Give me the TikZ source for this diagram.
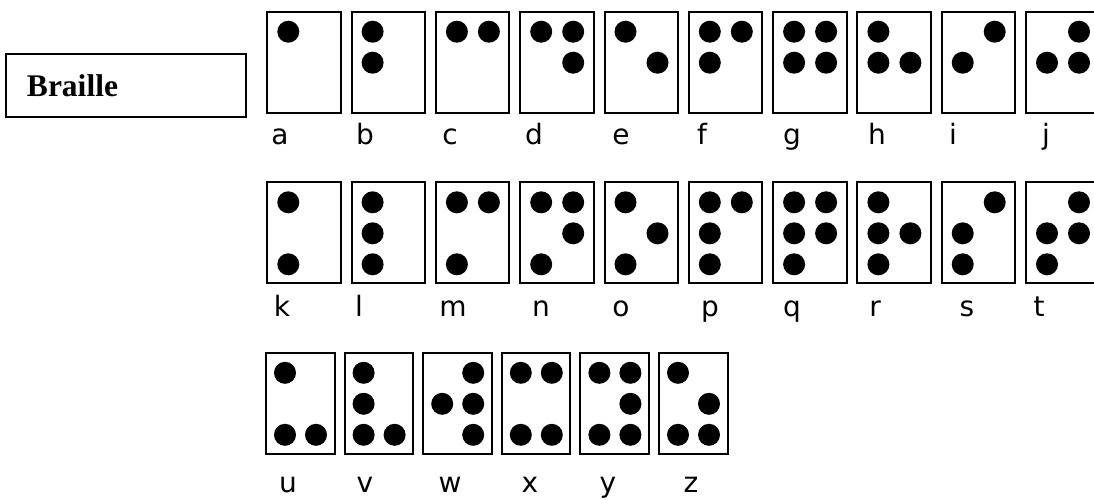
\documentclass[tikz,border=0pt]{standalone}
\usepackage{fontspec}
\setmainfont{Liberation Serif}
\newfontfamily\letterfont{DejaVu Sans}
\usepackage{tikz}

\tikzset{
  titlebox/.style={draw,line width=2pt,anchor=north west,minimum height=63pt,
    inner xsep=21pt,inner ysep=0pt,outer sep=0pt,text width=198pt,align=left,
    font=\fontsize{31.5}{31.5}\selectfont\bfseries},
  cellbox/.style={draw,line width=2pt,anchor=north west,inner sep=0pt,outer sep=0pt,
    minimum width=73.4pt,minimum height=101pt},
  cellsmall/.style={cellbox,minimum width=68.5pt},
  letter/.style={anchor=base,inner sep=0pt,font=\letterfont\fontsize{28}{28}\selectfont}
}

\begin{document}
\begin{tikzpicture}[x=1pt,y=-1pt]
    \clip (0,0) rectangle (1094,499);
    \fill[white] (0,0) rectangle (1094,499);
    \node[titlebox] (title) at (6,54) {Braille};
    % a to j
    \foreach \l/\pts/\lx [count=\i from 0] in {a/1/280,b/{1,2}/365,c/{1,4}/450,
      d/{1,4,5}/534,e/{1,5}/621,f/{1,2,4}/702,g/{1,2,4,5}/792,h/{1,2,5}/877,
      i/{2,4}/953,j/{2,4,5}/1046}
    {
      \node[cellbox] (c-\l) at (267.3+84.3*\i,11.7) {};
      \foreach \d in \pts {
        \pgfmathtruncatemacro\cx{\d>3}
        \pgfmathtruncatemacro\ry{mod(\d-1,3)}
        \fill ([shift={(21+32*\cx,20+31*\ry)}]c-\l.north west) circle[radius=11];
      }
      \node[letter] (l-\l) at (\lx,144) {\l};
    }
    % k to t
    \foreach \l/\pts/\lx [count=\i from 0] in {k/{1,3}/282,l/{1,2,3}/359,m/{1,3,4}/453,
      n/{1,3,4,5}/541,o/{1,3,5}/621,p/{1,2,3,4}/710,q/{1,2,3,4,5}/792,r/{1,2,3,5}/875,
      s/{2,3,4}/967,t/{2,3,4,5}/1039}
    {
      \node[cellbox] (c-\l) at (267.3+84.3*\i,182.3) {};
      \foreach \d in \pts {
        \pgfmathtruncatemacro\cx{\d>3}
        \pgfmathtruncatemacro\ry{mod(\d-1,3)}
        \fill ([shift={(21+32*\cx,20+31*\ry)}]c-\l.north west) circle[radius=11];
      }
      \node[letter] (l-\l) at (\lx,316) {\l};
    }
    % u to z
    \foreach \l/\pts/\lx [count=\i from 0] in {u/{1,3,6}/288,v/{1,2,3,6}/365,
      w/{2,4,5,6}/450,x/{1,3,4,6}/530,y/{1,3,4,5,6}/608,z/{1,3,5,6}/691}
    {
      \node[cellsmall] (c-\l) at (266+78.6*\i,353.3) {};
      \foreach \d in \pts {
        \pgfmathtruncatemacro\cx{\d>3}
        \pgfmathtruncatemacro\ry{mod(\d-1,3)}
        \fill ([shift={(19+31*\cx,19.5+31*\ry)}]c-\l.north west) circle[radius=11];
      }
      \node[letter] (l-\l) at (\lx,492) {\l};
    }
  \end{tikzpicture}
\end{document}
